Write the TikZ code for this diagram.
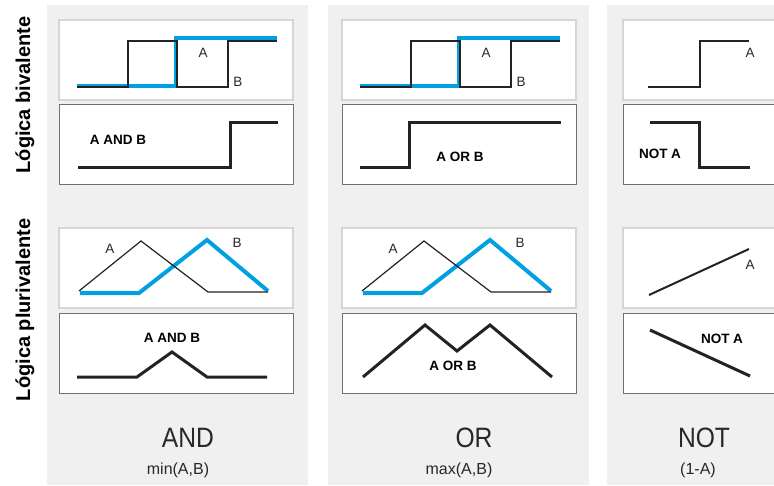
\documentclass[tikz,border=0pt]{standalone}
\usepackage{fontspec}
\setmainfont{Liberation Sans}
\newfontfamily\narrowsf[FakeStretch=0.88]{Liberation Sans}
\usetikzlibrary{positioning}
\definecolor{cpanel}{RGB}{240,240,240}
\definecolor{cframe}{RGB}{214,214,214}
\definecolor{cframedark}{RGB}{112,112,112}
\definecolor{cwave}{RGB}{35,35,35}
\definecolor{cblue}{RGB}{0,160,226}
\definecolor{ctext}{RGB}{40,40,40}

\begin{document}
\begin{tikzpicture}[
  x=1pt, y=-1pt,
  inbox/.style={draw=cframe, line width=1.6pt, fill=white, minimum width=234pt, minimum height=80pt, inner sep=0pt},
  outbox/.style={draw=cframedark, line width=1pt, fill=white, minimum width=234pt, minimum height=80pt, inner sep=0pt},
  thinwave/.style={cwave, line width=1.7pt},
  bluewave/.style={cblue, line width=4pt},
  outwave/.style={cwave, line width=3pt},
  sig/.style={ctext, font=\fontsize{13.5}{15}\selectfont, inner sep=0pt},
  res/.style={black, font=\bfseries\fontsize{13.5}{15}\selectfont, inner sep=0pt},
  side/.style={black, rotate=90, font=\bfseries\fontsize{20}{24}\selectfont, inner sep=0pt},
  opname/.style={ctext, font=\narrowsf\fontsize{28}{31}\selectfont, inner sep=0pt},
  opform/.style={ctext, font=\fontsize{16}{18}\selectfont, inner sep=0pt}
]
\clip (0,0) rectangle (774,485);
\fill[white] (0,0) rectangle (774,485);

% PANELS
\fill[cpanel] (47,5) rectangle (308,485);
\fill[cpanel] (328,5) rectangle (589,485);
\fill[cpanel] (607,5) rectangle (774,485);

% ROW TITLES
\node[side] (biv) at (25,95) {Lógica bivalente};
\node[side] (plu) at (25,310) {Lógica plurivalente};

% FRAMES
\foreach \c/\x in {1/176, 2/459, 3/740}{
  \node[inbox] (bi\c) at (\x,60) {};
  \node[outbox] (bo\c) at (\x,144) {};
  \node[inbox] (pi\c) at (\x,268) {};
  \node[outbox] (po\c) at (\x,353) {};
}

% INPUTS A AND B (AND, OR)
\foreach \c/\dx in {1/0, 2/283}{
  \begin{scope}[xshift=\dx]
    \draw[bluewave] (77,86) -- (176,86) -- (176,38) -- (277,38);
    \draw[thinwave] (77,87) -- (128,87) -- (128,41) -- (177,41) -- (177,87) -- (228,87) -- (228,41) -- (277,41);
    \node[sig] (bA\c) at (203,53) {A};
    \node[sig] (bB\c) at (238,82) {B};
  \end{scope}
  \begin{scope}[xshift=\dx+1]
    \draw[bluewave] (79,293) -- (138,293) -- (206,240) -- (267,291);
    \draw[thinwave, line width=1.2pt] (78,291) -- (140,241) -- (207,292) -- (267,292);
    \node[sig] (pA\c) at (109,249) {A};
    \node[sig] (pB\c) at (236,243) {B};
  \end{scope}
}

% RESULTS AND
\draw[outwave] (78,167) -- (230,167) -- (230,122) -- (278,122);
\node[res] (bAnd) at (118,140) {A AND B};
\draw[outwave] (77,377) -- (137,377) -- (172,352) -- (207,377) -- (267,377);
\node[res] (pAnd) at (172,338) {A AND B};

% RESULTS OR
\draw[outwave] (360,167) -- (409,167) -- (409,122) -- (561,122);
\node[res] (bOr) at (460,157) {A OR B};
\draw[outwave] (363,377) -- (425,325) -- (457,351) -- (490,325) -- (552,377);
\node[res] (pOr) at (453,366) {A OR B};

% NOT
\draw[thinwave] (648,87) -- (700,87) -- (700,41) -- (749,41);
\node[sig] (bA3) at (750,53) {A};
\draw[outwave] (650,122) -- (699,122) -- (699,167) -- (750,167);
\node[res] (bNot) at (660,154) {NOT A};
\draw[thinwave, line width=2pt] (649,295) -- (749,249);
\node[sig] (pA3) at (750,265) {A};
\draw[outwave] (650,330) -- (750,376);
\node[res] (pNot) at (722,339) {NOT A};

% OPERATORS
\node[opname] (and) at (188,438) {AND};
\node[opform] (min) at (178,470) {min(A,B)};
\node[opname] (or) at (474,438) {OR};
\node[opform] (max) at (459,470) {max(A,B)};
\node[opname] (not) at (704,438) {NOT};
\node[opform] (inv) at (698,470) {(1-A)};

\end{tikzpicture}
\end{document}
